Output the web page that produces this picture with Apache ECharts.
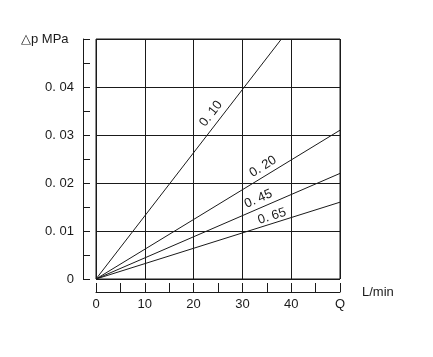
<!DOCTYPE html>
<html><head><meta charset="utf-8">
<script src="https://cdn.jsdelivr.net/npm/echarts@6/dist/echarts.min.js"></script>
<style>html,body{margin:0;padding:0;background:#fff}#c{width:433px;height:357px}</style>
</head><body><div id="c"></div>
<script>
// Data
const xTickLabels = ['0','10','20','30','40','Q'];
const yTickLabels = ['0','0. 01','0. 02','0. 03','0. 04',''];
const seriesNames = ['0. 10','0. 20','0. 45','0. 65'];
const lineEndX = [38, 50, 50, 50];
const lineEndY = [0.05, 0.031, 0.022, 0.016];
const labelAtX = [25.2, 35.2, 34.0, 36.5];
const labelGap = [10, 9, 9, 7];

const chart = echarts.init(document.getElementById('c'), null, {renderer:'canvas'});
const font = 'Liberation Sans, Arial, sans-serif';
const ink = '#1a1a1a';

const series = seriesNames.map((n,i)=>({
  name:n, type:'line', symbol:'none', silent:true,
  lineStyle:{color:ink, width:1},
  data:[[0,0],[lineEndX[i], lineEndY[i]]]
}));

chart.setOption({
  backgroundColor:'#fff',
  animation:false,
  grid:{left:96, right:93, top:39, bottom:78, show:true, borderColor:ink, borderWidth:1, backgroundColor:'transparent'},
  xAxis:{
    type:'value', min:0, max:50, interval:10, offset:13,
    axisLine:{show:true, onZero:false, lineStyle:{color:ink, width:1}},
    axisTick:{show:true, inside:true, length:9, lineStyle:{color:ink}},
    minorTick:{show:true, splitNumber:2, length:9, lineStyle:{color:ink}},
    splitLine:{show:true, lineStyle:{color:ink, width:1}},
    axisLabel:{margin:6, color:ink, fontFamily:font, fontSize:13,
      formatter:(v)=>xTickLabels[Math.round(v/10)]},
    name:'L/min', nameLocation:'end', nameGap:22,
    nameTextStyle:{color:ink, fontFamily:font, fontSize:13, padding:[0,0,6,0]}
  },
  yAxis:{
    type:'value', min:0, max:0.05, interval:0.01, offset:13,
    axisLine:{show:true, onZero:false, lineStyle:{color:ink, width:1}},
    axisTick:{show:true, inside:true, length:7, lineStyle:{color:ink}},
    minorTick:{show:true, splitNumber:2, length:7, lineStyle:{color:ink}},
    splitLine:{show:true, lineStyle:{color:ink, width:1}},
    axisLabel:{margin:9, color:ink, fontFamily:font, fontSize:13,
      formatter:(v)=>yTickLabels[Math.round(v/0.01)]}
  },
  series
});

// line labels along each line, positioned from the axes' scales
const g = [{type:'text', left:21, top:33, style:{text:'△p MPa', font:'13px '+font, fill:ink}}];
seriesNames.forEach((n,i)=>{
  const p0 = chart.convertToPixel({gridIndex:0},[0,0]);
  const p1 = chart.convertToPixel({gridIndex:0},[lineEndX[i], lineEndY[i]]);
  const ang = Math.atan2(p0[1]-p1[1], p1[0]-p0[0]);
  const xv = labelAtX[i];
  const pc = chart.convertToPixel({gridIndex:0},[xv, lineEndY[i]/lineEndX[i]*xv]);
  const px = pc[0] - Math.sin(ang)*labelGap[i];
  const py = pc[1] - Math.cos(ang)*labelGap[i];
  g.push({type:'text', x:px, y:py, rotation:ang, originX:0, originY:0,
    style:{text:n, font:'13px '+font, fill:ink, align:'center', verticalAlign:'middle'}});
});
chart.setOption({graphic:g});
</script></body></html>
